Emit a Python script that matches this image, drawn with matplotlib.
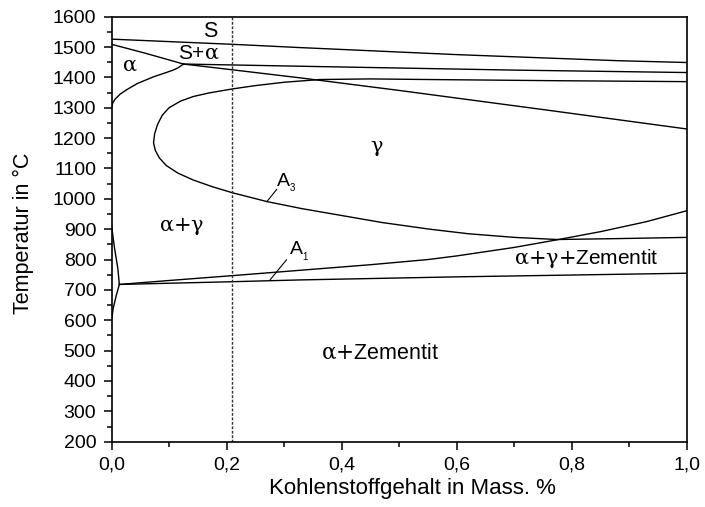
import numpy as np
import matplotlib
matplotlib.use("Agg")
import matplotlib.pyplot as plt
from matplotlib.ticker import MultipleLocator

plt.rcParams['font.family'] = ['Liberation Sans', 'DejaVu Sans']
plt.rcParams['mathtext.fontset'] = 'custom'
plt.rcParams['mathtext.rm'] = 'Liberation Sans'
plt.rcParams['mathtext.it'] = 'Liberation Sans:italic'
plt.rcParams['mathtext.sf'] = 'DejaVu Serif'  # fuer die griechischen Buchstaben

# --- Phasengrenzen ---
liq_x = [0.0, 0.21, 0.33, 0.60, 0.88, 1.0]
liq_y = [1526, 1509, 1498, 1475, 1455, 1449]

# delta-Liquidus bis zum Peritektikum, danach gamma-Solidus
sol_x = [0.0, 0.06, 0.125, 0.21, 0.33, 0.50, 0.75, 1.0]
sol_y = [1509, 1479, 1444, 1425, 1398, 1357, 1294, 1230]

# peritektische Linie
peri_x = [0.125, 0.35, 0.70, 1.0]
peri_y = [1444, 1436, 1424, 1416]

# Grenze des delta-Ferrits
delta_x = [0.0, 0.002, 0.006, 0.015, 0.026, 0.045, 0.073, 0.095, 0.107, 0.116, 0.125]
delta_y = [1300, 1315, 1328, 1345, 1359, 1380, 1402, 1416, 1424, 1432, 1444]

# gamma-Gebiet (A3): oberer Ast -> Nase -> unterer Ast
a3_x = [1.0, 0.78, 0.55, 0.45, 0.362, 0.30, 0.25, 0.21, 0.17, 0.142, 0.12, 0.10,
        0.088, 0.08, 0.075, 0.073, 0.076, 0.083, 0.095, 0.115, 0.142, 0.175, 0.21,
        0.27, 0.33, 0.40, 0.47, 0.553, 0.62, 0.70, 0.774, 0.88, 1.0]
a3_y = [1386, 1389, 1393, 1395, 1393, 1384, 1373, 1362, 1349, 1337, 1322, 1300,
        1275, 1245, 1215, 1185, 1160, 1135, 1110, 1085, 1062, 1040, 1020,
        991, 968, 945, 922, 900, 885, 873, 866, 869, 873]

# alpha-Grenze bei kleinen C-Gehalten
alpha_x = [0.0, 0.005, 0.011, 0.0136, 0.008, 0.003, 0.0]
alpha_y = [912, 840, 770, 718, 680, 640, 601]

# A1 (untere Linie)
a1_x = [0.0136, 0.21, 0.33, 0.60, 1.0]
a1_y = [718, 727, 733, 743, 755]

# obere Grenze alpha+gamma+Zementit
acm_x = [0.0136, 0.10, 0.21, 0.33, 0.45, 0.55, 0.60, 0.70, 0.774, 0.85, 0.93, 1.0]
acm_y = [718, 731, 747, 765, 783, 800, 812, 840, 865, 892, 925, 961]

c_mark = 0.21  # gestrichelte Linie

fig = plt.figure(figsize=(7.05, 5.07), dpi=100)
ax = fig.add_axes([0.1582, 0.1288, 0.8163, 0.8383])

lw = 1.0
for xs, ys in [(liq_x, liq_y), (sol_x, sol_y), (peri_x, peri_y), (delta_x, delta_y),
               (a3_x, a3_y), (alpha_x, alpha_y), (a1_x, a1_y), (acm_x, acm_y)]:
    ax.plot(xs, ys, color='black', lw=lw, solid_joinstyle='round')

ax.axvline(c_mark, color='#333333', lw=1.0, ls=(0, (2, 1.2)))

# Hinweislinien fuer A3 und A1
ax.plot([0.27, 0.287], [991, 1031], color='black', lw=0.8)
ax.plot([0.275, 0.304], [732, 799], color='black', lw=0.8)

fs = 15
ax.text(0.171, 1551, 'S', fontsize=15.5, ha='center', va='center')
ax.text(0.152, 1479, r'S+$\mathsf{\alpha}$', fontsize=fs, ha='center', va='center')
ax.text(0.032, 1441, r'$\mathsf{\alpha}$', fontsize=fs, ha='center', va='center')
ax.text(0.46, 1167, r'$\mathsf{\gamma}$', fontsize=fs, ha='center', va='center')
ax.text(0.122, 908, r'$\mathsf{\alpha{+}\gamma}$', fontsize=fs, ha='center', va='center')
ax.text(0.825, 804, r'$\mathsf{\alpha{+}\gamma{+}}$Zementit', fontsize=fs, ha='center', va='center')
ax.text(0.467, 491, r'$\mathsf{\alpha{+}}$Zementit', fontsize=15.5, ha='center', va='center')
ax.text(0.298, 1058, 'A', fontsize=14, ha='center', va='center')
ax.text(0.3145, 1036, '3', fontsize=7, ha='center', va='center')
ax.text(0.321, 833, 'A', fontsize=14, ha='center', va='center')
ax.text(0.3365, 809, '1', fontsize=7, ha='center', va='center')

ax.set_xlim(0, 1.0)
ax.set_ylim(200, 1600)
ax.xaxis.set_major_locator(MultipleLocator(0.2))
ax.xaxis.set_minor_locator(MultipleLocator(0.1))
ax.yaxis.set_major_locator(MultipleLocator(100))
ax.yaxis.set_minor_locator(MultipleLocator(50))
ax.xaxis.set_major_formatter(lambda v, p: f"{v:.1f}".replace('.', ','))
ax.tick_params(which='major', direction='out', length=6, width=1.1, labelsize=14, pad=5)
ax.tick_params(which='minor', direction='out', length=3.5, width=1.1)
for s in ax.spines.values():
    s.set_linewidth(1.2)

ax.set_xlabel('Kohlenstoffgehalt in Mass. %', fontsize=16)
ax.set_ylabel('Temperatur in °C', fontsize=15.5)
ax.xaxis.set_label_coords(0.522, -0.085)
ax.yaxis.set_label_coords(-0.135, 0.49)

fig.savefig('out.png', dpi=100)
